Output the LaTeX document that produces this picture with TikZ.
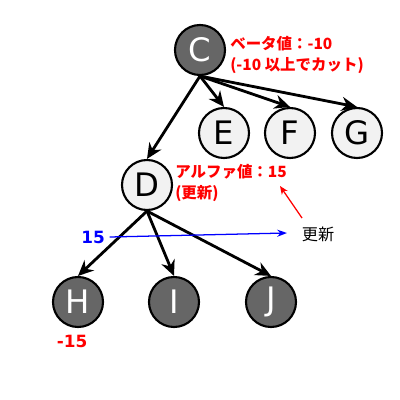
\documentclass[tikz,border=0pt]{standalone}
\usepackage{fontspec}
\setmainfont{DejaVu Sans}
\newfontfamily\jpfont{Noto Sans CJK JP}
\usetikzlibrary{arrows.meta}

\tikzset{
  darknode/.style={circle, draw=black, line width=1.5pt, fill=black!60, text=white,
    minimum size=1.25cm, inner sep=0pt, font=\fontsize{23}{23}\selectfont},
  lightnode/.style={circle, draw=black, line width=1.5pt, fill=black!5, text=black,
    minimum size=1.25cm, inner sep=0pt, font=\fontsize{23}{23}\selectfont},
  note/.style={text=red, font=\jpfont\bfseries\fontsize{11}{15.5}\selectfont, align=left, inner sep=0pt}
}

\begin{document}
\begin{tikzpicture}[x=0.025cm, y=-0.025cm]
  \useasboundingbox (0,0) rectangle (400,400);
  % tree nodes
  \node[darknode]  (C) at (200,50)  {C};
  \node[lightnode] (E) at (224,133) {E};
  \node[lightnode] (F) at (290,133) {F};
  \node[lightnode] (G) at (357,133) {G};
  \node[lightnode] (D) at (147,185) {D};
  \node[darknode]  (H) at (78,302)  {H};
  \node[darknode]  (I) at (174,302) {I};
  \node[darknode]  (J) at (271,302) {J};
  % labels
  \node[note, anchor=west] (beta) at (230,55)
    {ベータ値：-10\\(-10 以上でカット)};
  \node[note, anchor=west] (alpha) at (175,183)
    {アルファ値：15\\(更新)};
  \node[text=red, font=\fontsize{12}{12}\selectfont\bfseries] (hval) at (72,341) {-15};
  \node[font=\jpfont\fontsize{11.5}{12}\selectfont] (upd) at (318,234) {更新};
  \node[text=blue, font=\fontsize{12}{12}\selectfont\bfseries] (val) at (93,237) {15};
  \coordinate (astart) at (302,218);
  \coordinate (atip) at (280,186);
  \coordinate (btip) at (287,233);
  % tree edges
  \path[-{Stealth[length=11pt,width=10pt]}, line width=2pt]
  (C.south) edge (D.north)
            edge (E.north)
            edge (F.north)
            edge (G.north)
  (D.south) edge (H.north)
            edge (I.north)
            edge (J.north);
  % notes
  \draw[-{Stealth[length=6pt,width=5pt]}, red, line width=0.9pt] (astart) -- (atip);
  \draw[-{Stealth[length=7pt,width=5pt]}, blue, line width=0.9pt] (val.east) -- (btip);
\end{tikzpicture}
\end{document}
